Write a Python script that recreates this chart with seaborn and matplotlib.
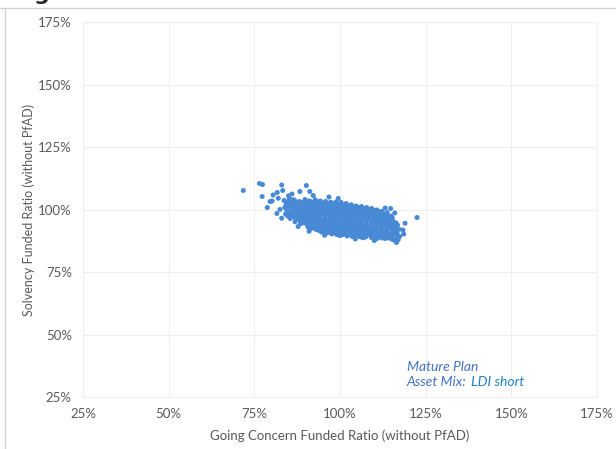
import matplotlib.pyplot as plt
import seaborn as sns
import pandas as pd
from matplotlib.ticker import FuncFormatter

# funded ratios (%): stray points around the cloud
edge_gc = [
    71.8, 76.5, 77.4, 77.3, 79.6, 78.8, 81.7, 83.0, 83.3, 88.3,
    91.2, 90.2, 86.0, 85.0, 92.2, 96.8, 99.5, 82.5, 83.0, 80.2,
    81.6, 122.5, 116.0, 114.8, 119.0, 116.5, 110.0, 104.5, 95.5, 91.0,
    87.8, 80.5, 82.0, 113.2,
]
edge_solv = [
    107.6, 110.4, 110.0, 105.2, 103.2, 100.8, 106.8, 109.8, 107.6, 107.2,
    107.2, 109.6, 106.2, 105.5, 105.6, 105.0, 104.4, 100.0, 96.5, 103.4,
    98.4, 96.8, 98.6, 100.4, 94.5, 86.8, 87.6, 88.2, 89.7, 91.3,
    93.2, 105.8, 104.5, 100.6,
]

# dense body of the cloud
core_gc = [
    83.7, 84.3, 83.9, 84.6, 84.1, 84.8,
    85.2, 85.9, 85.4, 86.0, 85.3, 85.8, 85.5,
    86.7, 87.3, 86.9, 87.5, 86.8, 87.2, 87.6, 86.9,
    88.2, 88.8, 88.4, 89.0, 88.3, 88.7, 89.1, 88.5,
    89.8, 90.3, 89.9, 90.5, 90.1, 89.7, 90.4, 90.0, 90.6,
    91.3, 91.8, 91.2, 91.9, 91.5, 91.1, 91.7, 91.4, 91.9, 91.2,
    92.8, 93.3, 92.7, 93.4, 93.0, 92.6, 93.2, 92.9, 93.5, 93.1,
    94.3, 94.8, 94.2, 94.9, 94.5, 94.1, 94.7, 94.4, 94.9, 94.2, 94.6,
    95.8, 96.3, 95.7, 96.4, 96.0, 95.6, 96.2, 95.9, 96.5, 95.7, 96.1,
    97.3, 97.8, 97.2, 97.9, 97.5, 97.1, 97.7, 97.4, 97.9, 97.2, 97.6,
    98.8, 99.3, 98.7, 99.4, 99.0, 98.6, 99.2, 98.9, 99.5, 98.7, 99.1,
    100.3, 100.8, 100.2, 100.9, 100.5, 100.1, 100.7, 100.4, 100.9, 100.2, 100.6,
    101.8, 102.3, 101.7, 102.4, 102.0, 101.6, 102.2, 101.9, 102.5, 101.7, 102.1,
    103.3, 103.8, 103.2, 103.9, 103.5, 103.1, 103.7, 103.4, 103.9, 103.2, 103.6,
    104.8, 105.3, 104.7, 105.4, 105.0, 104.6, 105.2, 104.9, 105.5, 104.7,
    106.3, 106.8, 106.2, 106.9, 106.5, 106.1, 106.7, 106.4, 106.9, 106.2, 106.6,
    107.8, 108.3, 107.7, 108.4, 108.0, 107.6, 108.2, 107.9, 108.5, 107.7,
    109.3, 109.8, 109.2, 109.9, 109.5, 109.1, 109.7, 109.4, 109.9, 109.2,
    110.8, 111.3, 110.7, 111.4, 111.0, 110.6, 111.2, 110.9, 111.5, 110.7,
    112.3, 112.8, 112.2, 112.9, 112.5, 112.1, 112.7, 112.4, 112.9,
    113.8, 114.3, 113.7, 114.4, 114.0, 113.6, 114.2, 113.9,
    115.3, 115.8, 115.2, 115.9, 115.5, 115.1, 115.7,
    116.8, 117.3, 116.7, 117.4, 117.0,
    118.4, 118.6,
]
core_solv = [
    103.6, 102.1, 100.8, 99.5, 98.2, 97.3,
    104.3, 103.0, 101.6, 100.2, 99.0, 97.6, 96.4,
    103.8, 102.5, 101.2, 99.9, 98.6, 97.2, 96.0, 95.1,
    103.2, 101.9, 100.7, 99.3, 98.0, 96.8, 95.4, 94.3,
    104.0, 102.6, 101.3, 100.1, 98.7, 97.4, 96.1, 94.8, 93.5,
    103.3, 102.0, 100.6, 99.4, 98.0, 96.8, 95.5, 94.1, 92.9, 92.1,
    103.9, 102.5, 101.2, 100.0, 98.6, 97.3, 96.1, 94.7, 93.4, 92.0,
    103.4, 102.1, 100.8, 99.6, 98.3, 97.0, 95.7, 94.4, 93.0, 91.8, 91.0,
    103.2, 101.9, 100.5, 99.3, 98.0, 96.6, 95.4, 94.1, 92.8, 91.5, 90.6,
    102.9, 101.6, 100.4, 99.0, 97.7, 96.4, 95.1, 93.8, 92.5, 91.2, 90.2,
    103.0, 101.7, 100.3, 99.1, 97.8, 96.5, 95.2, 93.9, 92.6, 91.3, 90.0,
    102.8, 101.5, 100.1, 98.9, 97.6, 96.3, 95.0, 93.7, 92.4, 91.1, 89.8,
    102.4, 101.1, 99.8, 98.5, 97.2, 95.9, 94.6, 93.3, 92.0, 90.7, 89.4,
    101.9, 100.6, 99.3, 98.0, 96.7, 95.4, 94.1, 92.8, 91.5, 90.2, 89.2,
    101.4, 100.1, 98.8, 97.5, 96.2, 94.9, 93.6, 92.3, 91.0, 89.8,
    101.2, 99.9, 98.6, 97.3, 96.0, 94.7, 93.4, 92.1, 90.8, 89.6, 88.7,
    100.8, 99.5, 98.2, 96.9, 95.6, 94.3, 93.0, 91.7, 90.4, 89.2,
    100.4, 99.1, 97.8, 96.5, 95.2, 93.9, 92.6, 91.3, 90.0, 88.8,
    99.8, 98.5, 97.2, 95.9, 94.6, 93.3, 92.0, 90.7, 89.4, 88.3,
    99.3, 98.0, 96.7, 95.4, 94.1, 92.8, 91.5, 90.2, 88.9,
    98.8, 97.2, 95.8, 94.3, 92.9, 91.4, 90.1, 88.6,
    96.7, 95.0, 93.4, 91.9, 90.4, 89.0, 87.8,
    93.8, 92.1, 90.6, 89.2, 87.9,
    91.8, 90.2,
]

# points lying between the ones above
fill_gc = [
    84.9, 85.2, 84.5, 85.0, 84.6,
    86.1, 86.6, 86.2, 86.5, 86.0, 86.7,
    87.9, 87.5, 88.1, 87.7, 88.0, 87.4, 88.2,
    89.4, 89.0, 89.6, 89.1, 89.5, 89.2, 89.6,
    90.9, 91.2, 90.6, 91.0, 90.7, 91.1, 90.8, 91.2, 90.7,
    92.4, 92.0, 92.6, 92.1, 92.5, 92.2, 92.7, 92.0, 92.4,
    93.9, 93.6, 94.0, 93.7, 94.1, 93.5, 93.9, 93.6, 94.0, 93.7,
    95.4, 95.0, 95.5, 95.1, 95.6, 95.2, 95.4, 95.0, 95.6, 95.2,
    96.9, 96.5, 97.0, 96.6, 97.1, 96.7, 97.0, 96.6, 97.1, 96.7,
    98.4, 98.0, 98.5, 98.1, 98.6, 98.2, 98.5, 98.1, 98.6, 98.2,
    99.9, 99.5, 100.0, 99.6, 100.1, 99.7, 100.0, 99.6, 100.1, 99.7, 99.9,
    101.4, 101.0, 101.5, 101.1, 101.6, 101.2, 101.5, 101.1, 101.6, 101.2,
    102.9, 102.5, 103.0, 102.6, 103.1, 102.7, 103.0, 102.6, 103.1, 102.7,
    104.4, 104.0, 104.5, 104.1, 104.6, 104.2, 104.5, 104.1, 104.6, 104.2,
    105.9, 105.5, 106.0, 105.6, 106.1, 105.7, 106.0, 105.6, 106.1, 105.7,
    107.4, 107.0, 107.5, 107.1, 107.6, 107.2, 107.5, 107.1, 107.6, 107.2,
    108.9, 108.5, 109.0, 108.6, 109.1, 108.7, 109.0, 108.6, 109.1,
    110.4, 110.0, 110.5, 110.1, 110.6, 110.2, 110.5, 110.1, 110.6,
    111.9, 111.5, 112.0, 111.6, 112.1, 111.7, 112.0, 111.6, 112.1,
    113.4, 113.0, 113.5, 113.1, 113.6, 113.2, 113.5, 113.1,
    114.9, 114.5, 115.0, 114.6, 115.1, 114.7, 115.0,
    116.4, 116.0, 116.5, 116.1, 116.6,
]
fill_solv = [
    103.1, 101.4, 100.1, 98.7, 97.8,
    103.9, 102.3, 100.9, 99.4, 98.1, 96.9,
    103.0, 101.7, 100.5, 98.9, 97.8, 96.5, 95.7,
    102.9, 101.5, 100.0, 98.6, 97.1, 95.9, 94.6,
    103.4, 101.9, 100.7, 99.2, 97.9, 96.5, 95.1, 93.9, 93.0,
    103.0, 101.8, 100.3, 99.0, 97.6, 96.4, 95.0, 93.7, 92.5,
    103.1, 101.7, 100.4, 99.0, 97.7, 96.4, 95.2, 93.9, 92.6, 91.7,
    102.6, 101.3, 100.0, 98.8, 97.4, 96.1, 94.8, 93.5, 92.3, 91.2,
    102.5, 101.2, 99.9, 98.5, 97.2, 95.8, 94.5, 93.3, 92.0, 90.9,
    102.3, 100.9, 99.7, 98.4, 97.0, 95.8, 94.4, 93.1, 91.9, 90.7,
    102.2, 100.9, 99.6, 98.3, 96.9, 95.6, 94.3, 93.0, 91.8, 90.5, 89.6,
    102.0, 100.7, 99.3, 98.0, 96.7, 95.3, 94.0, 92.7, 91.4, 90.1,
    101.6, 100.3, 99.0, 97.7, 96.4, 95.0, 93.8, 92.5, 91.2, 89.9,
    101.2, 99.9, 98.6, 97.2, 95.9, 94.6, 93.3, 92.0, 90.7, 89.5,
    100.8, 99.5, 98.2, 96.9, 95.5, 94.2, 92.9, 91.6, 90.3, 89.2,
    100.4, 99.1, 97.8, 96.5, 95.2, 93.8, 92.5, 91.2, 89.9, 88.9,
    100.1, 98.8, 97.5, 96.2, 94.8, 93.5, 92.2, 90.9, 89.6,
    99.7, 98.4, 97.0, 95.7, 94.4, 93.0, 91.7, 90.4, 89.1,
    99.1, 97.8, 96.4, 95.1, 93.8, 92.4, 91.1, 89.8, 88.6,
    98.2, 96.8, 95.3, 93.9, 92.5, 91.0, 89.6, 88.4,
    97.4, 95.7, 94.0, 92.5, 91.0, 89.5, 88.2,
    94.6, 92.9, 91.3, 89.8, 88.3,
]
ticks = [25, 50, 75, 100, 125, 150, 175]

df = pd.DataFrame({'gc': edge_gc + core_gc + fill_gc,
                   'solv': edge_solv + core_solv + fill_solv})

sns.set_style('white')
plt.rcParams['font.family'] = ['Lato', 'DejaVu Sans']

fig = plt.figure(figsize=(6.16, 4.49), dpi=100)
ax = fig.add_axes([0.1347, 0.1158, 0.8343, 0.8352])

sns.scatterplot(data=df, x='gc', y='solv', ax=ax, s=13, color='#4889d6',
                edgecolor='none', linewidth=0)

ax.set_xlim(25, 175)
ax.set_ylim(25, 175)
ax.set_xticks(ticks)
ax.set_yticks(ticks)
pct = FuncFormatter(lambda v, p: f'{v:.0f}%')
ax.xaxis.set_major_formatter(pct)
ax.yaxis.set_major_formatter(pct)
ax.grid(True, color='#efefef', linewidth=0.8)
ax.set_axisbelow(True)
for sp in ax.spines.values():
    sp.set_color('#efefef')
    sp.set_linewidth(0.8)
ax.tick_params(length=0, labelsize=9.5, labelcolor='#595959', pad=8)

ax.set_xlabel('Going Concern Funded Ratio (without PfAD)', fontsize=9.5,
              color='#595959', labelpad=7)
ax.set_ylabel('Solvency Funded Ratio (without PfAD)', fontsize=9,
              color='#595959', labelpad=2)

t1 = ax.text(0.63, 0.08, 'Mature Plan', transform=ax.transAxes, fontsize=10,
             style='italic', color='#4472c4', va='center')
t2 = ax.text(0.63, 0.04, 'Asset Mix: ', transform=ax.transAxes, fontsize=10,
             style='italic', color='#4472c4', va='center')
ax.annotate('LDI short', xy=(1, 0.5), xycoords=t2, xytext=(1, 0),
            textcoords='offset points', va='center', fontsize=10,
            style='italic', color='#1f7fc8')

# frame of the screenshot and the cut-off heading
fig.add_artist(plt.Line2D([0, 1], [1 - 8 / 449] * 2, color='#d4d4d4', lw=1))
fig.add_artist(plt.Line2D([5 / 616] * 2, [0, 1 - 8 / 449], color='#d4d4d4', lw=1))
fig.text(0.055, 1.0, 'g', fontsize=16, fontweight='bold', va='baseline',
         family='DejaVu Sans')

fig.savefig('out.png', dpi=100)
